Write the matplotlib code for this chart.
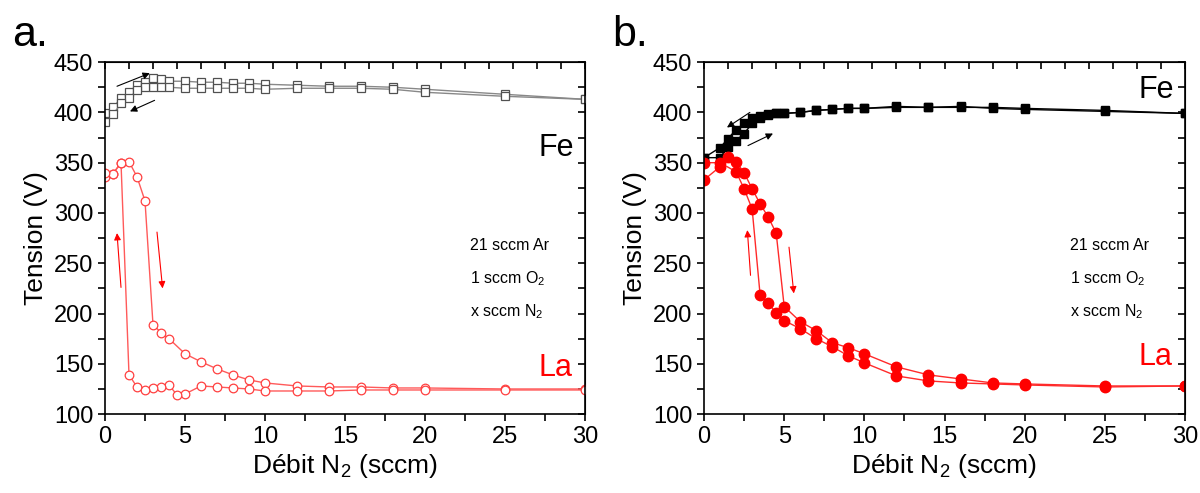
import matplotlib
matplotlib.use('agg')
import matplotlib.pyplot as plt
import numpy as np
from matplotlib.ticker import MultipleLocator

plt.rcParams['font.family'] = ['Liberation Sans', 'DejaVu Sans']
plt.rcParams['mathtext.fontset'] = 'custom'
plt.rcParams['mathtext.rm'] = 'Liberation Sans'
plt.rcParams['mathtext.it'] = 'Liberation Sans'

# panel a: Fe target (open squares)
fe_a_up_x = [0, 0.5, 1, 1.5, 2, 2.5, 3, 3.5, 4, 5, 6, 7, 8, 9, 10, 12, 14, 16, 18, 20, 25, 30]
fe_a_up_y = [399, 405, 414, 420, 427, 430, 434, 433, 431, 431, 430, 430, 429, 429, 428, 427, 426, 426, 425, 423, 418, 413]
fe_a_dn_x = [30, 25, 20, 18, 16, 14, 12, 10, 9, 8, 7, 6, 5, 4, 3.5, 3, 2.5, 2, 1.5, 1, 0.5, 0]
fe_a_dn_y = [413, 416, 420, 423, 424, 424, 424, 423, 424, 424, 424, 424, 424, 425, 425, 425, 425, 422, 414, 409, 398, 390]

# panel a: La target (open circles)
la_a_up_x = [0, 0.5, 1, 1.5, 2, 2.5, 3, 3.5, 4, 5, 6, 7, 8, 9, 10, 12, 14, 16, 18, 20, 25, 30]
la_a_up_y = [336, 339, 350, 351, 336, 312, 189, 181, 175, 160, 152, 145, 139, 134, 131, 128, 127, 127, 126, 126, 125, 125]
la_a_dn_x = [30, 25, 20, 18, 16, 14, 12, 10, 9, 8, 7, 6, 5, 4.5, 4, 3.5, 3, 2.5, 2, 1.5, 1, 0.5, 0]
la_a_dn_y = [124, 124, 124, 124, 124, 123, 123, 123, 125, 126, 127, 128, 120, 119, 129, 127, 126, 124, 127, 139, 350, 339, 340]

# panel b: Fe target (filled squares)
fe_b_up_x = [0, 1, 1.5, 2, 2.5, 3, 3.5, 4, 4.5, 5, 6, 7, 8, 9, 10, 12, 14, 16, 18, 20, 25, 30]
fe_b_up_y = [355, 355, 366, 372, 379, 389, 394, 397, 399, 399, 400, 402, 403, 404, 404, 405, 405, 406, 404, 403, 401, 399]
fe_b_dn_x = [30, 25, 20, 18, 16, 14, 12, 10, 9, 8, 7, 6, 5, 4.5, 4, 3.5, 3, 2.5, 2, 1.5, 1, 0]
fe_b_dn_y = [399, 402, 404, 405, 405, 405, 406, 404, 404, 403, 402, 400, 399, 399, 398, 396, 394, 389, 383, 374, 365, 355]

# panel b: La target (filled circles)
la_b_up_x = [0, 1, 1.5, 2, 2.5, 3, 3.5, 4, 4.5, 5, 6, 7, 8, 9, 10, 12, 14, 16, 18, 20, 25, 30]
la_b_up_y = [333, 346, 356, 351, 340, 324, 309, 296, 280, 207, 192, 183, 171, 166, 160, 147, 139, 135, 131, 130, 128, 128]
la_b_dn_x = [30, 25, 20, 18, 16, 14, 12, 10, 9, 8, 7, 6, 5, 4.5, 4, 3.5, 3, 2.5, 2, 1, 0]
la_b_dn_y = [128, 127, 129, 130, 131, 133, 138, 151, 158, 167, 175, 185, 193, 201, 210, 218, 304, 324, 341, 350, 350]

RED = '#ff2a2a'


def style_axes(ax):
    ax.set_xlim(0, 30)
    ax.set_ylim(100, 450)
    ax.xaxis.set_major_locator(MultipleLocator(5))
    ax.xaxis.set_minor_locator(MultipleLocator(2.5))
    ax.yaxis.set_major_locator(MultipleLocator(50))
    ax.yaxis.set_minor_locator(MultipleLocator(25))
    ax.tick_params(which='both', direction='out', labelsize=17, width=1.2)
    ax.tick_params(which='major', length=5)
    ax.tick_params(which='minor', length=5)
    for s in ax.spines.values():
        s.set_linewidth(1.2)
    # mirrored ticks, pointing in
    top = ax.secondary_xaxis('top')
    top.set_xticks(np.arange(0, 30.01, 1.5))
    top.tick_params(direction='in', length=5, width=1.2, labeltop=False)
    right = ax.secondary_yaxis('right')
    right.set_yticks(np.arange(100, 450.01, 25))
    right.tick_params(direction='in', length=5, width=1.2, labelright=False)
    ax.set_xlabel('Débit N$_2$ (sccm)', fontsize=19, labelpad=3)
    ax.set_ylabel('Tension (V)', fontsize=19, labelpad=4)
    ax.text(22.8, 268, '21 sccm Ar', fontsize=11.5, va='center')
    ax.text(22.8, 235, '1 sccm O$_2$', fontsize=11.5, va='center')
    ax.text(22.8, 202, 'x sccm N$_2$', fontsize=11.5, va='center')


def arrow(ax, x0, y0, x1, y1, color):
    ax.annotate('', xy=(x1, y1), xytext=(x0, y0),
                arrowprops=dict(arrowstyle='-|>', color=color, lw=0.8,
                                mutation_scale=10, shrinkA=0, shrinkB=0))


fig = plt.figure(figsize=(12, 4.93), dpi=100)
ax1 = fig.add_axes([0.0875, 0.160, 0.400, 0.714])
ax2 = fig.add_axes([0.5867, 0.160, 0.4008, 0.714])

# panel a
for xs, ys in [(fe_a_up_x, fe_a_up_y), (fe_a_dn_x, fe_a_dn_y)]:
    ax1.plot(xs, ys, color='#888888', lw=1, marker='s', ms=5.8, mfc='white',
             mec='#505050', mew=0.9)
for xs, ys in [(la_a_up_x, la_a_up_y), (la_a_dn_x, la_a_dn_y)]:
    ax1.plot(xs, ys, color='#ff5a5a', lw=1, marker='o', ms=6.2, mfc='white',
             mec='#ff4040', mew=0.9)
arrow(ax1, 0.75, 426, 2.8, 439, 'black')
arrow(ax1, 3.1, 412, 1.56, 401, 'black')
arrow(ax1, 1.0, 226, 0.75, 280, 'red')
arrow(ax1, 3.25, 281, 3.6, 225, 'red')
ax1.text(29.3, 365, 'Fe', fontsize=22, ha='right', va='center')
ax1.text(29.2, 146, 'La', fontsize=22, ha='right', va='center', color='red')
style_axes(ax1)

# panel b
for xs, ys in [(fe_b_up_x, fe_b_up_y), (fe_b_dn_x, fe_b_dn_y)]:
    ax2.plot(xs, ys, color='black', lw=1, marker='s', ms=6, mfc='black',
             mec='black')
for xs, ys in [(la_b_up_x, la_b_up_y), (la_b_dn_x, la_b_dn_y)]:
    ax2.plot(xs, ys, color=RED, lw=1, marker='o', ms=7.5, mfc='red', mec='red')
arrow(ax2, 2.86, 400, 1.43, 385, 'black')
arrow(ax2, 2.74, 367, 4.3, 379, 'black')
arrow(ax2, 2.9, 238, 2.7, 283, 'red')
arrow(ax2, 5.3, 266, 5.6, 220, 'red')
ax2.text(29.3, 422, 'Fe', fontsize=22, ha='right', va='center')
ax2.text(29.2, 157, 'La', fontsize=22, ha='right', va='center', color='red')
style_axes(ax2)

fig.text(0.010, 0.93, 'a.', fontsize=31, va='center')
fig.text(0.510, 0.93, 'b.', fontsize=31, va='center')

fig.savefig('out.png', dpi=100)
